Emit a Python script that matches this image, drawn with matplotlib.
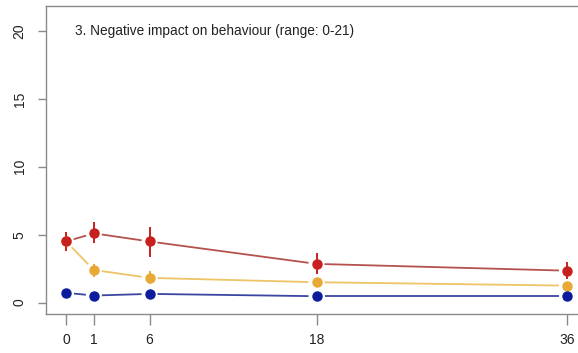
import matplotlib
matplotlib.use("Agg")
import matplotlib.pyplot as plt
import numpy as np

plt.rcParams['font.family'] = ['Liberation Sans', 'DejaVu Sans']

# measurement occasions: position on the axis and the label printed under it
time_pos = [0, 2, 6, 18, 36]
time_labels = ["0", "1", "6", "18", "36"]
y_ticks = [0, 5, 10, 15, 20]

red_mean = [4.5, 5.1, 4.5, 2.85, 2.35]
red_lo = [3.8, 4.4, 3.35, 2.1, 1.75]
red_hi = [5.2, 5.9, 5.6, 3.65, 3.0]

yellow_mean = [4.5, 2.4, 1.82, 1.5, 1.25]
yellow_lo = [4.0, 1.9, 1.35, 1.2, 0.95]
yellow_hi = [5.0, 2.85, 2.3, 1.8, 1.55]

blue_mean = [0.72, 0.52, 0.64, 0.47, 0.47]
blue_lo = [0.62, 0.44, 0.5, 0.4, 0.4]
blue_hi = [0.82, 0.6, 0.78, 0.55, 0.55]

title = "3. Negative impact on behaviour (range: 0-21)"

W, H = 578, 353
fig = plt.figure(figsize=(W / 100, H / 100), dpi=100)
ax = fig.add_axes([46 / W, 39 / H, 541 / W, 308 / H])
ax.set_xlim(-1.44, 37.44)
ax.set_ylim(-0.84, 21.84)

series = [
    (yellow_mean, yellow_lo, yellow_hi, "#E8A934", "#EEC466"),
    (blue_mean, blue_lo, blue_hi, "#0C1A9C", "#3A46A0"),
    (red_mean, red_lo, red_hi, "#C8201E", "#B5524D"),
]

gap = 8.0  # pixels left blank around each point on the connecting line
fig.canvas.draw()
to_px = ax.transData
to_data = ax.transData.inverted()

for k, (mean, lo, hi, pcol, lcol) in enumerate(series):
    pts = to_px.transform(np.column_stack([time_pos, mean]))
    for i in range(len(pts) - 1):
        p0, p1 = pts[i], pts[i + 1]
        d = p1 - p0
        L = np.hypot(*d)
        if L <= 2 * gap:
            continue
        u = d / L
        a = to_data.transform(p0 + u * gap)
        b = to_data.transform(p1 - u * gap)
        ax.plot([a[0], b[0]], [a[1], b[1]], color=lcol, lw=1.3,
                solid_capstyle='butt', zorder=2 + k)
    ax.vlines(time_pos, lo, hi, color=pcol, lw=1.4, zorder=5 + k)
    ax.plot(time_pos, mean, 'o', color=pcol, ms=6.5, mec=pcol, zorder=8 + k)

ax.text(0.65, 20, title, fontsize=9.8, color="#222222", va='center', ha='left')

for s in ['top', 'bottom', 'left', 'right']:
    ax.spines[s].set_color('#8a8a8a')
    ax.spines[s].set_linewidth(1.0)

ax.set_xticks(time_pos)
ax.set_xticklabels(time_labels)
ax.set_yticks(y_ticks)
ax.set_yticklabels([str(v) for v in y_ticks], rotation=90, va='center')
ax.tick_params(axis='x', length=8, width=1.0, color='#8a8a8a', pad=6,
               labelsize=10, labelcolor='#222222')
ax.tick_params(axis='y', length=6, width=1.0, color='#8a8a8a', pad=8,
               labelsize=10, labelcolor='#222222')

fig.savefig("out.png", dpi=100, facecolor='white')
